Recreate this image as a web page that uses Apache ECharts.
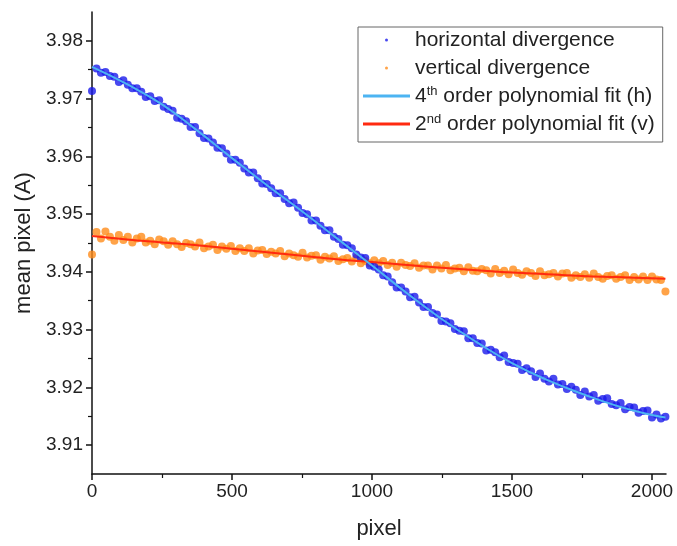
<!DOCTYPE html>
<html>
<head>
<meta charset="utf-8">
<script src="https://cdn.jsdelivr.net/npm/echarts@6/dist/echarts.min.js"></script>
<style>
html, body { margin: 0; padding: 0; background: #fff; }
#main { width: 677px; height: 546px; }
</style>
</head>
<body>
<div id="main"></div>
<script>
// detector pixel positions of the measured points
var pixelPos = [0,16,32,48,64,80,96,112,128,144,160,176,192,208,224,240,
    256,272,288,304,320,336,352,368,384,400,416,432,448,464,480,496,
    512,528,544,560,576,592,608,624,640,656,672,688,704,720,736,752,
    768,784,800,816,832,848,864,880,896,912,928,944,960,976,992,1008,
    1024,1040,1056,1072,1088,1104,1120,1136,1152,1168,1184,1200,1216,1232,1248,1264,
    1280,1296,1312,1328,1344,1360,1376,1392,1408,1424,1440,1456,1472,1488,1504,1520,
    1536,1552,1568,1584,1600,1616,1632,1648,1664,1680,1696,1712,1728,1744,1760,1776,
    1792,1808,1824,1840,1856,1872,1888,1904,1920,1936,1952,1968,1984,2000,2016,2032,
    2048];

var horizDiv = [3.9713,3.9752,3.9745,3.9746,3.9739,3.9738,3.9729,3.9732,
    3.9724,3.9718,3.9718,3.9712,3.9703,3.9704,3.9696,3.9697,
    3.9686,3.9682,3.9679,3.9667,3.9665,3.9661,3.9651,3.9651,
    3.9640,3.9632,3.9631,3.9624,3.9615,3.9614,3.9605,3.9594,
    3.9594,3.9589,3.9579,3.9572,3.9572,3.9562,3.9553,3.9552,
    3.9545,3.9536,3.9536,3.9526,3.9519,3.9520,3.9511,3.9502,
    3.9500,3.9489,3.9489,3.9480,3.9472,3.9472,3.9461,3.9457,
    3.9447,3.9446,3.9441,3.9430,3.9425,3.9424,3.9411,3.9409,
    3.9404,3.9394,3.9392,3.9382,3.9373,3.9373,3.9366,3.9356,
    3.9357,3.9347,3.9339,3.9339,3.9329,3.9326,3.9315,3.9314,
    3.9311,3.9301,3.9298,3.9297,3.9285,3.9285,3.9277,3.9276,
    3.9264,3.9265,3.9261,3.9252,3.9255,3.9244,3.9242,3.9241,
    3.9230,3.9233,3.9228,3.9218,3.9224,3.9215,3.9210,3.9215,
    3.9205,3.9206,3.9197,3.9201,3.9196,3.9187,3.9193,3.9184,
    3.9187,3.9177,3.9180,3.9181,3.9171,3.9169,3.9173,3.9162,
    3.9166,3.9165,3.9156,3.9159,3.9160,3.9148,3.9153,3.9146,
    3.9149];

var vertDiv = [3.9430,3.9469,3.9458,3.9470,3.9461,3.9454,3.9464,3.9455,
    3.9461,3.9451,3.9458,3.9461,3.9451,3.9454,3.9448,3.9456,
    3.9453,3.9447,3.9453,3.9448,3.9443,3.9450,3.9448,3.9444,
    3.9451,3.9441,3.9444,3.9447,3.9438,3.9444,3.9440,3.9445,
    3.9436,3.9441,3.9436,3.9441,3.9432,3.9437,3.9438,3.9431,
    3.9435,3.9432,3.9436,3.9427,3.9432,3.9429,3.9426,3.9433,
    3.9425,3.9428,3.9429,3.9421,3.9426,3.9423,3.9427,3.9419,
    3.9422,3.9424,3.9418,3.9424,3.9415,3.9419,3.9415,3.9420,
    3.9415,3.9419,3.9412,3.9416,3.9409,3.9416,3.9412,3.9410,
    3.9415,3.9407,3.9411,3.9411,3.9404,3.9411,3.9406,3.9412,
    3.9403,3.9406,3.9407,3.9401,3.9408,3.9402,3.9401,3.9405,
    3.9403,3.9397,3.9405,3.9398,3.9402,3.9396,3.9404,3.9398,
    3.9395,3.9401,3.9398,3.9393,3.9401,3.9394,3.9396,3.9398,
    3.9392,3.9397,3.9398,3.9390,3.9394,3.9391,3.9396,3.9390,
    3.9397,3.9391,3.9388,3.9393,3.9394,3.9388,3.9391,3.9394,
    3.9386,3.9391,3.9387,3.9392,3.9386,3.9392,3.9387,3.9386,
    3.9366];

// fitted curves
var fitPixel = [0,125,250,375,500,625,750,875,1000,1125,1250,1375,1500,1625,1750,1875,2000,2048];
var fitH = [3.9755,3.9725,3.9690,3.9645,3.9597,3.9550,3.9505,3.9458,3.9411,
    3.9363,3.9318,3.9278,3.9242,3.9213,3.9189,3.9168,3.9152,3.9148];
var fitV = [3.9462,3.9456,3.9451,3.9446,3.9440,3.9434,3.9428,3.9422,3.9417,
    3.9412,3.9407,3.9403,3.9399,3.9396,3.9393,3.9391,3.9389,3.9388];

var yMajor = [3.91, 3.92, 3.93, 3.94, 3.95, 3.96, 3.97, 3.98];
var yMinor = [3.915, 3.925, 3.935, 3.945, 3.955, 3.965, 3.975];
var xMajor = [0, 500, 1000, 1500, 2000];
var xMinor = [250, 750, 1250, 1750];

var names = ['horizontal divergence', 'vertical divergence',
    '4th order polynomial fit (h)', '2nd order polynomial fit (v)'];
var colors = ['#1a1aeb', '#ff8c1a', '#4cb4f2', '#ff2a10'];

function pairs(xs, ys) {
    return xs.map(function (x, i) { return [x, ys[i]]; });
}

var font = 'Liberation Sans, Arial, sans-serif';
var axisLine = { show: true, lineStyle: { color: '#111', width: 1.5 } };

option = {
    animation: false,
    backgroundColor: '#fff',
    grid: { left: 92, right: 11, top: 12, bottom: 72, containLabel: false, outerBoundsMode: 'none' },
    legend: {
        orient: 'vertical',
        left: 358,
        top: 27,
        padding: [2, 8, 7, 5],
        borderColor: '#666',
        borderWidth: 1,
        backgroundColor: '#fff',
        itemWidth: 47,
        itemHeight: 3,
        itemGap: 6,
        data: [
            { name: names[0], icon: 'circle' },
            { name: names[1], icon: 'circle' },
            { name: names[2], icon: 'rect' },
            { name: names[3], icon: 'rect' }
        ],
        formatter: function (name) {
            return name.replace(/^(\d)(th|nd)/, '$1{sup|$2}');
        },
        textStyle: {
            fontFamily: font, fontSize: 21, color: '#222', lineHeight: 22,
            rich: { sup: { fontFamily: font, fontSize: 13, color: '#222', verticalAlign: 'top', lineHeight: 13 } }
        }
    },
    xAxis: [{
        type: 'value', min: 0, max: 2050,
        name: 'pixel', nameLocation: 'middle', nameGap: 44,
        nameTextStyle: { fontFamily: font, fontSize: 22, color: '#222' },
        axisLine: axisLine,
        axisTick: { show: true, length: 6, customValues: xMajor, lineStyle: { color: '#111', width: 1.5 } },
        axisLabel: {
            customValues: xMajor, margin: 8, fontFamily: font, fontSize: 19, color: '#222',
            formatter: function (v) { return String(v); }
        },
        splitLine: { show: false }
    }, {
        type: 'value', min: 0, max: 2050, position: 'bottom',
        axisLine: { show: false },
        axisTick: { show: true, length: 4, customValues: xMinor, lineStyle: { color: '#111', width: 1.2 } },
        axisLabel: { show: false },
        splitLine: { show: false }
    }],
    yAxis: [{
        type: 'value', min: 3.905, max: 3.985,
        name: 'mean pixel (A)', nameLocation: 'middle', nameGap: 55,
        nameTextStyle: { fontFamily: font, fontSize: 22, color: '#222' },
        axisLine: axisLine,
        axisTick: { show: true, length: 6, customValues: yMajor, lineStyle: { color: '#111', width: 1.5 } },
        axisLabel: {
            customValues: yMajor, margin: 9, fontFamily: font, fontSize: 19, color: '#222',
            formatter: function (v) { return v.toFixed(2); }
        },
        splitLine: { show: false }
    }, {
        type: 'value', min: 3.905, max: 3.985, position: 'left',
        axisLine: { show: false },
        axisTick: { show: true, length: 4, customValues: yMinor, lineStyle: { color: '#111', width: 1.2 } },
        axisLabel: { show: false },
        splitLine: { show: false }
    }],
    series: [{
        name: names[1],
        type: 'scatter',
        symbolSize: 8,
        itemStyle: { color: colors[1] },
        data: pairs(pixelPos, vertDiv),
        z: 2
    }, {
        name: names[0],
        type: 'scatter',
        symbolSize: 8,
        itemStyle: { color: colors[0] },
        data: pairs(pixelPos, horizDiv),
        z: 3
    }, {
        name: names[3],
        type: 'line',
        smooth: true,
        showSymbol: false,
        itemStyle: { color: colors[3] },
        lineStyle: { color: colors[3], width: 2 },
        data: pairs(fitPixel, fitV),
        z: 4
    }, {
        name: names[2],
        type: 'line',
        smooth: true,
        showSymbol: false,
        itemStyle: { color: colors[2] },
        lineStyle: { color: colors[2], width: 2 },
        data: pairs(fitPixel, fitH),
        z: 5
    }]
};

var myChart = echarts.init(document.getElementById('main'));
myChart.setOption(option);
</script>
</body>
</html>
